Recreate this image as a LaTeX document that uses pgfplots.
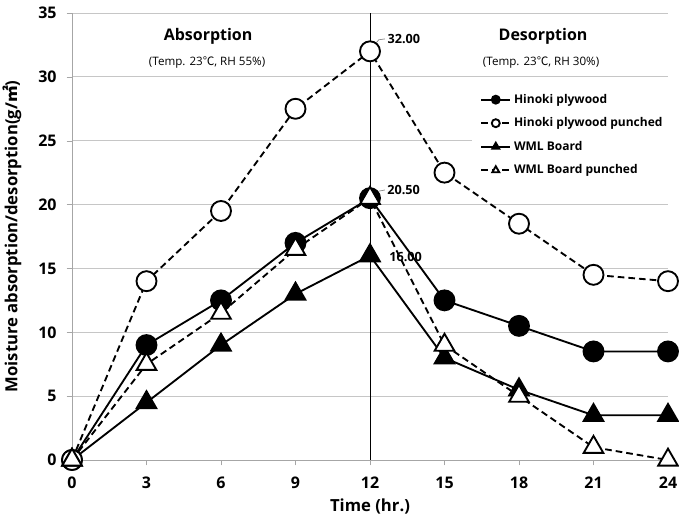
\documentclass[border=0pt]{standalone}
\usepackage{pgfplots}
\pgfplotsset{compat=1.18}
\usepackage{fontspec}
\setmainfont{Open Sans}
\newfontfamily\cjk{Noto Sans CJK KR}
\begin{document}
\begin{tikzpicture}
\begin{axis}[
 scale only axis, width=447pt, height=335.25pt,
 xmin=0, xmax=24, ymin=0, ymax=35,
 xtick={0,3,...,24}, ytick={0,5,...,35},
 axis lines=left, axis line style={draw=gray!70, -},
 ymajorgrids, grid style={gray!45, line width=0.7pt},
 tick align=outside, major tick length=4pt, tick style={gray!70},
 ticklabel style={font=\fontsize{12}{14}\selectfont\bfseries},
 xticklabel style={yshift=-5pt},
 yticklabel style={xshift=-4pt},
 /pgf/number format/assume math mode=true,
 xlabel={Time (hr.)},
 ylabel={Moisture absorption/desorption(g/{\cjk\bfseries ㎡})},
 label style={font=\fontsize{12.5}{14}\selectfont\bfseries},
 xlabel style={at={(axis description cs:0.5,-0.105)}, anchor=center},
 ylabel style={at={(axis description cs:-0.1007,0.5)}, anchor=center},
 clip=false,
 legend style={at={(0.671,0.837)}, anchor=north west, draw=none, fill=white,
   font=\fontsize{9}{11}\selectfont\bfseries, row sep=5.3pt, inner xsep=6pt, inner ysep=4pt},
 legend cell align=left,
 legend image code/.code={\draw[mark repeat=2,mark phase=2,#1,mark size=3pt] plot coordinates {(0pt,0pt) (11pt,0pt) (22pt,0pt)};},
]
\addplot[black, line width=1.4pt, mark=*, mark size=7.5pt, mark options={solid, fill=black}]
 coordinates {(0,0) (3,9) (6,12.5) (9,17) (12,20.5) (15,12.5) (18,10.5) (21,8.5) (24,8.5)};
\addlegendentry{Hinoki plywood}
\addplot[black, line width=1.4pt, dash pattern=on 5pt off 3pt, mark=*, mark size=7.5pt, mark options={solid, fill=white}]
 coordinates {(0,0) (3,14) (6,19.5) (9,27.5) (12,32) (15,22.5) (18,18.5) (21,14.5) (24,14)};
\addlegendentry{Hinoki plywood punched}
\addplot[black, line width=1.4pt, mark=triangle*, mark size=8.5pt, mark options={solid, fill=black}]
 coordinates {(0,0) (3,4.5) (6,9) (9,13) (12,16) (15,8) (18,5.5) (21,3.5) (24,3.5)};
\addlegendentry{WML Board}
\addplot[black, line width=1.4pt, dash pattern=on 5pt off 3pt, mark=triangle*, mark size=8.5pt, mark options={solid, fill=white}]
 coordinates {(0,0) (3,7.5) (6,11.5) (9,16.5) (12,20.5) (15,9) (18,5) (21,1) (24,0)};
\addlegendentry{WML Board punched}
\addplot[black, line width=0.6pt, forget plot] coordinates {(12,0) (12,35)};
\node[font=\fontsize{12}{14}\selectfont\bfseries] at (axis cs:5.48,33.15) {Absorption};
\node[font=\fontsize{8.7}{10}\selectfont] at (axis cs:5.44,31.1) {(Temp. 23{\cjk ℃}, RH 55\%)};
\node[font=\fontsize{12}{14}\selectfont\bfseries] at (axis cs:18.97,33.15) {Desorption};
\node[font=\fontsize{8.7}{10}\selectfont] at (axis cs:18.89,31.1) {(Temp. 23{\cjk ℃}, RH 30\%)};
\node[anchor=west, inner sep=0pt, font=\fontsize{9.5}{11}\selectfont\bfseries] at (axis cs:12.7,32.97) {32.00};
\node[anchor=west, inner sep=0pt, font=\fontsize{9.5}{11}\selectfont\bfseries] at (axis cs:12.69,21.14) {20.50};
\node[anchor=west, inner sep=0pt, font=\fontsize{9.5}{11}\selectfont\bfseries] at (axis cs:12.77,15.9) {16.00};
\draw[gray, line width=0.5pt] (axis cs:12.1,32.3) -- (axis cs:12.35,32.9) -- (axis cs:12.6,32.97);
\draw[gray, line width=0.5pt] (axis cs:12.35,21.05) -- (axis cs:12.6,21.14);
\end{axis}
\pgfresetboundingbox
\path (-54pt,-42.75pt) rectangle (455.25pt,345pt);
\end{tikzpicture}
\end{document}
